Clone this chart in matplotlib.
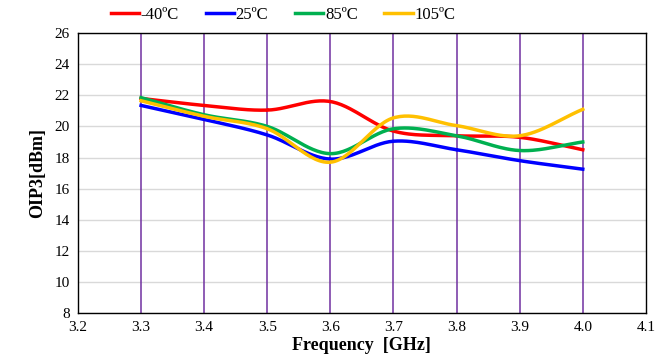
import numpy as np
import matplotlib.pyplot as plt

# Values
freq = [3.3, 3.4, 3.5, 3.6, 3.7, 3.8, 3.9, 4.0]
oip3_m40 = [21.8, 21.35, 21.05, 21.6, 19.7, 19.4, 19.3, 18.5]
oip3_25 = [21.35, 20.45, 19.45, 17.9, 19.05, 18.5, 17.8, 17.25]
oip3_85 = [21.85, 20.75, 20.0, 18.25, 19.85, 19.4, 18.45, 19.0]
oip3_105 = [21.65, 20.65, 19.85, 17.7, 20.55, 20.05, 19.4, 21.1]

labels = ["-40ºC", "25ºC", "85ºC", "105ºC"]
colors = ["#ff0000", "#0000ff", "#00b050", "#ffc000"]


def smooth(x, y, n=30):
    # Catmull-Rom path through the points, like Excel's smoothed line
    x = np.asarray(x, float)
    y = np.asarray(y, float)
    px = np.concatenate([[2 * x[0] - x[1]], x, [2 * x[-1] - x[-2]]])
    py = np.concatenate([[2 * y[0] - y[1]], y, [2 * y[-1] - y[-2]]])
    xs, ys = [], []
    t = np.linspace(0, 1, n)
    for i in range(1, len(px) - 2):
        for p, out in ((px, xs), (py, ys)):
            p0, p1, p2, p3 = p[i - 1], p[i], p[i + 1], p[i + 2]
            out.extend(0.5 * (2 * p1 + (-p0 + p2) * t
                              + (2 * p0 - 5 * p1 + 4 * p2 - p3) * t ** 2
                              + (-p0 + 3 * p1 - 3 * p2 + p3) * t ** 3))
    return xs, ys


plt.rcParams['font.family'] = ['Liberation Serif', 'DejaVu Serif']

fig = plt.figure(figsize=(6.7, 3.64), dpi=100)
ax = fig.add_axes([0.1164, 0.140, 0.8476, 0.769])

for v in freq:
    ax.axvline(v, color="#7030a0", lw=1.1, zorder=1)
ax.grid(axis="y", color="#d9d9d9", lw=1.0)
ax.set_axisbelow(True)

for ys, lab, c in zip([oip3_m40, oip3_25, oip3_85, oip3_105], labels, colors):
    sx, sy = smooth(freq, ys)
    ax.plot(sx, sy, color=c, lw=2.5, label=lab, zorder=3)

ax.set_xlim(3.2, 4.1)
ax.set_ylim(8, 26)
ax.set_xticks(np.arange(3.2, 4.15, 0.1))
ax.set_xticklabels([f"{v:.1f}" for v in np.arange(3.2, 4.15, 0.1)])
ax.set_yticks(range(8, 27, 2))
ax.tick_params(length=0, labelsize=11, pad=6)
for s in ax.spines.values():
    s.set_color("black")
    s.set_linewidth(1.0)

ax.set_xlabel("Frequency  [GHz]", fontsize=13, fontweight="bold", labelpad=2)
ax.set_ylabel("OIP3[dBm]", fontsize=13, fontweight="bold", labelpad=6)

ax.legend(loc="center", bbox_to_anchor=(0.361, 1.064), ncol=4, frameon=False,
          fontsize=12, handlelength=1.7, handletextpad=0.1, columnspacing=1.6,
          borderaxespad=0, borderpad=0)

fig.savefig("out.png", dpi=100)
